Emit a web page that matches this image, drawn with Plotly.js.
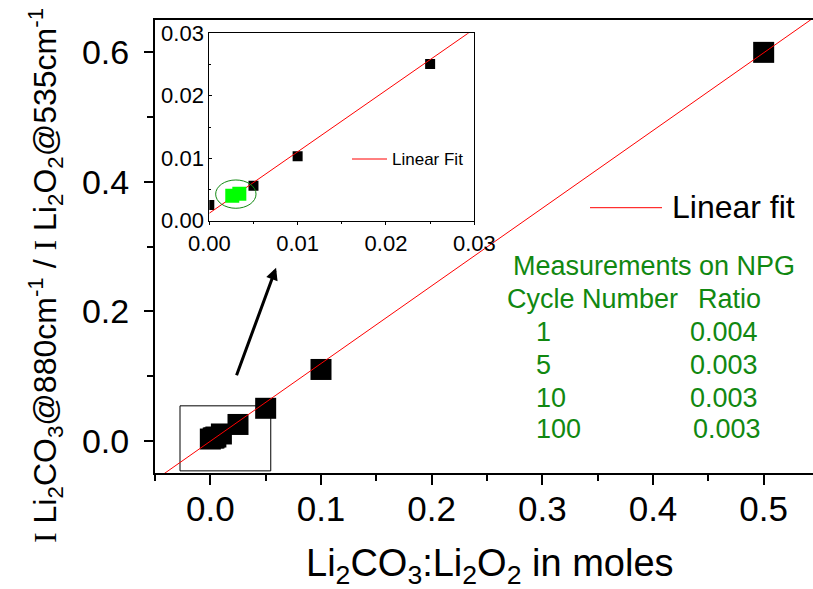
<!DOCTYPE html>
<html>
<head>
<meta charset="utf-8">
<script src="https://cdn.plot.ly/plotly-3.0.1.min.js"></script>
<style>
html, body { margin: 0; padding: 0; overflow: hidden; background: #fff; }
#chart { width: 822px; height: 589px; }
</style>
</head>
<body>
<div id="chart"></div>
<script>
// ---- data ----
const mainX = [0, 0.0026, 0.0034, 0.005, 0.01, 0.025, 0.05, 0.1, 0.5];
const mainY = [0.0025, 0.004, 0.0043, 0.0056, 0.0103, 0.025, 0.05, 0.11, 0.6];
const mainFitX = [-0.05, 0.55];
const mainFitY = [-0.0609, 0.6593];

const insetBlackX = [0, 0.005, 0.01, 0.025];
const insetBlackY = [0.0025, 0.0056, 0.0103, 0.0251];
const insetGreenX = [0.0026, 0.0034];
const insetGreenY = [0.0040, 0.0043];
const insetFitX = [0, 0.03];
const insetFitY = [0.0012, 0.0307];

const cycleNumbers = ['1', '5', '10', '100'];
const ratios = ['0.004', '0.003', '0.003', '0.003'];

const mainXTicks = [0, 0.1, 0.2, 0.3, 0.4, 0.5];
const mainYTicks = [0, 0.2, 0.4, 0.6];
const insetTicks = [0, 0.01, 0.02, 0.03];

// zoom box (main) and highlight ellipse (inset), data coords
const zoomBox = {x0: -0.0274, x1: 0.0546, y0: -0.0467, y1: 0.0538};
const highlight = {x0: 0.00072, x1: 0.00529, y0: 0.00199, y1: 0.00652};

// ---- layout helpers (pixel -> paper) ----
const W = 822, H = 589, ML = 155, MR = 3, MT = 20, MB = 116;
const PW = W - ML - MR, PH = H - MT - MB;
const px = v => (v - ML) / PW;
const py = v => (H - MB - v) / PH;

const FONT = 'Arial, Liberation Sans, sans-serif';
const GREEN = '#118811';

const traces = [
  {x: mainX, y: mainY, type: 'scatter', mode: 'markers',
   marker: {symbol: 'square', size: 21, color: '#000'}, showlegend: false, cliponaxis: false},
  {x: mainFitX, y: mainFitY, type: 'scatter', mode: 'lines',
   line: {color: '#ff0000', width: 1}, showlegend: false},
  {x: insetBlackX, y: insetBlackY, xaxis: 'x2', yaxis: 'y2', type: 'scatter', mode: 'markers',
   marker: {symbol: 'square', size: 10, color: '#000'}, showlegend: false},
  {x: insetFitX, y: insetFitY, xaxis: 'x2', yaxis: 'y2', type: 'scatter', mode: 'lines',
   line: {color: '#ff0000', width: 1}, showlegend: false},
  {x: insetGreenX, y: insetGreenY, xaxis: 'x2', yaxis: 'y2', type: 'scatter', mode: 'markers',
   marker: {symbol: 'square', size: 14, color: '#00ff00'}, showlegend: false}
];

const annotations = [
  // axis titles
  {xref: 'paper', yref: 'paper', x: px(490), y: py(566), xanchor: 'center', yanchor: 'middle', showarrow: false,
   text: 'Li<sub>2</sub>CO<sub>3</sub>:Li<sub>2</sub>O<sub>2</sub> in moles', font: {family: FONT, size: 38, color: '#000'}},
  {xref: 'paper', yref: 'paper', x: px(45), y: py(276), xanchor: 'center', yanchor: 'middle', showarrow: false, textangle: -90,
   text: '<span style="font-family:Liberation Serif">I</span> Li<sub>2</sub>CO<sub>3</sub>@880cm<sup>-1</sup> / <span style="font-family:Liberation Serif">I</span> Li<sub>2</sub>O<sub>2</sub>@535cm<sup>-1</sup>',
   font: {family: FONT, size: 32, color: '#000'}},
  // main legend text
  {xref: 'paper', yref: 'paper', x: px(670), y: py(207), xanchor: 'left', yanchor: 'middle', showarrow: false,
   text: 'Linear fit', font: {family: FONT, size: 32, color: '#000'}},
  // inset legend text
  {xref: 'paper', yref: 'paper', x: px(390), y: py(159), xanchor: 'left', yanchor: 'middle', showarrow: false,
   text: 'Linear Fit', font: {family: FONT, size: 17, color: '#000'}},
  // green table
  {xref: 'paper', yref: 'paper', x: px(511), y: py(266), xanchor: 'left', yanchor: 'middle', showarrow: false,
   text: 'Measurements on NPG', font: {family: FONT, size: 27, color: GREEN}},
  {xref: 'paper', yref: 'paper', x: px(505), y: py(299), xanchor: 'left', yanchor: 'middle', showarrow: false,
   text: 'Cycle Number', font: {family: FONT, size: 27, color: GREEN}},
  {xref: 'paper', yref: 'paper', x: px(696), y: py(299), xanchor: 'left', yanchor: 'middle', showarrow: false,
   text: 'Ratio', font: {family: FONT, size: 27, color: GREEN}},
  // arrow
  {xref: 'x', yref: 'y', axref: 'x', ayref: 'y', x: 0.0594, y: 0.267, ax: 0.0232, ay: 0.0986,
   showarrow: true, arrowhead: 2, arrowsize: 0.8, arrowwidth: 3, arrowcolor: '#000', text: '', standoff: 0}
];
const rowY = [332, 365, 398, 429];
const ratioX = [688, 688, 688, 691];
cycleNumbers.forEach((c, i) => {
  annotations.push({xref: 'paper', yref: 'paper', x: px(534), y: py(rowY[i]), xanchor: 'left', yanchor: 'middle', showarrow: false,
    text: c, font: {family: FONT, size: 27, color: GREEN}});
  annotations.push({xref: 'paper', yref: 'paper', x: px(ratioX[i]), y: py(rowY[i]), xanchor: 'left', yanchor: 'middle', showarrow: false,
    text: ratios[i], font: {family: FONT, size: 27, color: GREEN}});
});

const shapes = [
  {type: 'rect', xref: 'x', yref: 'y', x0: zoomBox.x0, x1: zoomBox.x1, y0: zoomBox.y0, y1: zoomBox.y1,
   line: {color: '#000', width: 1}, layer: 'below'},
  {type: 'circle', xref: 'x2', yref: 'y2', x0: highlight.x0, x1: highlight.x1, y0: highlight.y0, y1: highlight.y1,
   line: {color: GREEN, width: 1}},
  {type: 'line', xref: 'paper', yref: 'paper', x0: px(590), x1: px(662), y0: py(207.7), y1: py(207.7),
   line: {color: '#ff0000', width: 1}},
  {type: 'line', xref: 'paper', yref: 'paper', x0: px(352), x1: px(387), y0: py(159), y1: py(159),
   line: {color: '#ff0000', width: 1}}
];

const layout = {
  width: W, height: H,
  margin: {l: ML, r: MR, t: MT, b: MB, pad: 0},
  paper_bgcolor: '#fff', plot_bgcolor: '#fff',
  showlegend: false,
  font: {family: FONT, color: '#000'},
  xaxis: {
    range: [-0.05, 0.55], domain: [0, 1], tickvals: mainXTicks, tickformat: '.1f',
    showgrid: false, zeroline: false, showline: true, linecolor: '#000', linewidth: 2, mirror: true,
    ticks: 'outside', ticklen: 10, tickwidth: 2, tickcolor: '#000',
    minor: {dtick: 0.05, tick0: 0, ticks: 'outside', ticklen: 6, tickwidth: 2, tickcolor: '#000'},
    tickfont: {family: FONT, size: 35, color: '#000'}, ticklabelstandoff: -6
  },
  yaxis: {
    range: [-0.05, 0.65], domain: [0, 1], tickvals: mainYTicks, tickformat: '.1f',
    showgrid: false, zeroline: false, showline: true, linecolor: '#000', linewidth: 2, mirror: true,
    ticks: 'outside', ticklen: 9, tickwidth: 2, tickcolor: '#000',
    minor: {dtick: 0.1, tick0: 0, ticks: 'outside', ticklen: 6, tickwidth: 2, tickcolor: '#000'},
    tickfont: {family: FONT, size: 34, color: '#000'}, ticklabelstandoff: 8
  },
  xaxis2: {
    anchor: 'y2', domain: [px(209.3), px(474.3)], range: [0, 0.03], tickvals: insetTicks, tickformat: '.2f',
    showgrid: false, zeroline: false, showline: true, linecolor: '#000', linewidth: 1, mirror: true,
    ticks: 'outside', ticklen: 3, tickwidth: 1, tickcolor: '#000',
    minor: {dtick: 0.005, tick0: 0, ticks: 'outside', ticklen: 2, tickwidth: 1, tickcolor: '#000'},
    tickfont: {family: FONT, size: 22, color: '#000'}, ticklabelstandoff: 0
  },
  yaxis2: {
    anchor: 'x2', domain: [py(220.7), py(33.3)], range: [0, 0.03], tickvals: insetTicks, tickformat: '.2f',
    showgrid: false, zeroline: false, showline: true, linecolor: '#000', linewidth: 1, mirror: true,
    ticks: 'inside', ticklen: 3, tickwidth: 1, tickcolor: '#000',
    minor: {dtick: 0.005, tick0: 0, ticks: 'inside', ticklen: 2, tickwidth: 1, tickcolor: '#000'},
    tickfont: {family: FONT, size: 22, color: '#000'}, ticklabelstandoff: 0
  },
  annotations: annotations,
  shapes: shapes
};

Plotly.newPlot('chart', traces, layout, {staticPlot: true, displayModeBar: false});
</script>
</body>
</html>
